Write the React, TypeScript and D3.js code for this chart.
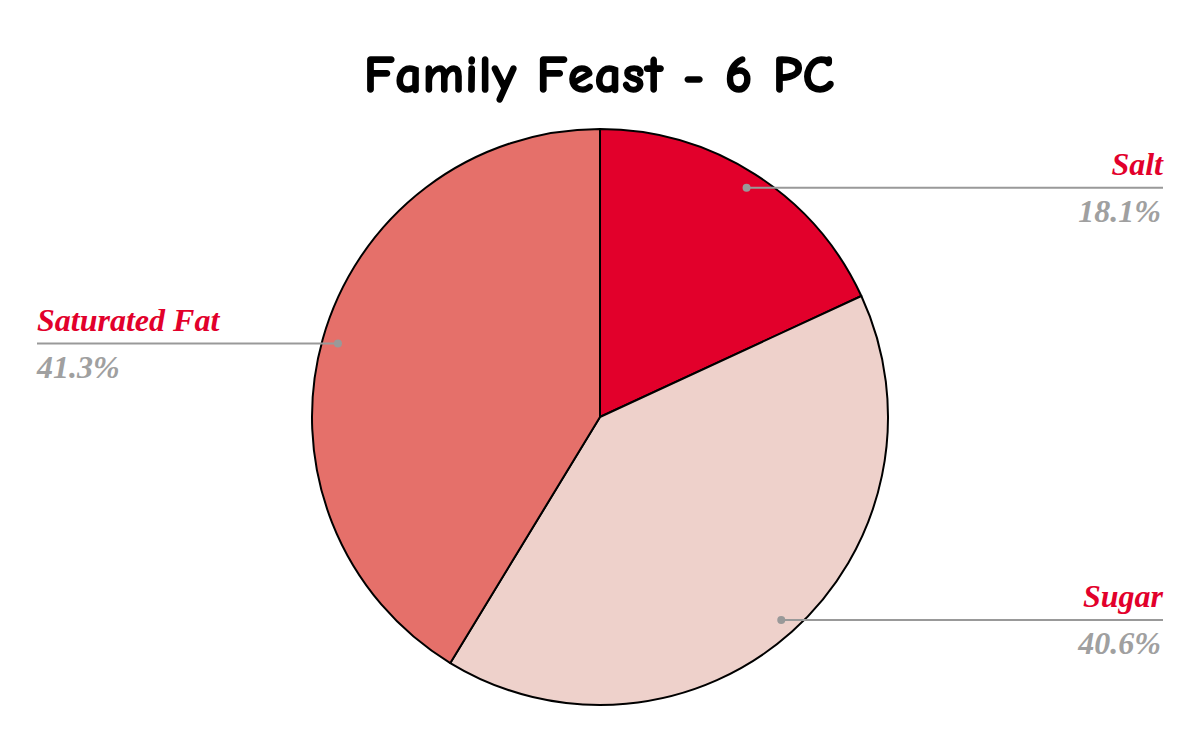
import React, { useEffect, useRef } from 'react';
import * as d3 from 'd3';

const categories = ['Salt', 'Sugar', 'Saturated Fat'];
const shares = [18.1, 40.6, 41.3];
const sliceColors = ['#e2002b', '#eed1cb', '#e5706a'];
const title = 'Family Feast - 6 PC';

export default function App() {
  const svgRef = useRef<SVGSVGElement>(null);

  useEffect(() => {
    if (!svgRef.current) return;
    const svg = d3.select(svgRef.current);
    svg.selectAll('*').remove();

    const width = 1200;
    const height = 742;
    const cx = 600;
    const cy = 417;
    const radius = 288;

    svg.append('rect').attr('width', width).attr('height', height).attr('fill', '#fff');

    svg.append('text')
      .attr('x', 599)
      .attr('y', 92)
      .attr('text-anchor', 'middle')
      .attr('textLength', 470)
      .attr('lengthAdjust', 'spacing')
      .style('font-family', '"Comic Sans MS", "Comic Neue", Lato, sans-serif')
      .style('font-weight', 'bold')
      .style('font-size', '52px')
      .style('fill', '#000')
      .style('stroke', '#000')
      .style('stroke-width', 1.6)
      .style('stroke-linejoin', 'round')
      .text(title);

    const data = categories.map((name, i) => ({ name, value: shares[i], color: sliceColors[i] }));
    const pie = d3.pie<typeof data[number]>().value(d => d.value).sort(null);
    const arcs = pie(data);
    const arc = d3.arc<d3.PieArcDatum<typeof data[number]>>().innerRadius(0).outerRadius(radius);

    const g = svg.append('g').attr('transform', `translate(${cx},${cy})`);

    g.selectAll('path.slice')
      .data(arcs)
      .enter()
      .append('path')
      .attr('class', 'slice')
      .attr('d', arc)
      .attr('fill', d => d.data.color)
      .attr('stroke', '#000')
      .attr('stroke-width', 2)
      .attr('stroke-linejoin', 'round');

    // Leader lines and labels
    const dotR = radius * 0.945;
    const leftX = 37;
    const rightX = 1163;

    arcs.forEach(a => {
      const mid = (a.startAngle + a.endAngle) / 2;
      const px = cx + Math.sin(mid) * dotR;
      const py = cy - Math.cos(mid) * dotR;
      const right = Math.sin(mid) >= 0;
      const endX = right ? rightX : leftX;

      svg.append('line')
        .attr('x1', px).attr('y1', py)
        .attr('x2', endX).attr('y2', py)
        .attr('stroke', '#999')
        .attr('stroke-width', 2);

      svg.append('circle')
        .attr('cx', px).attr('cy', py)
        .attr('r', 4)
        .attr('fill', '#999');

      svg.append('text')
        .attr('x', endX)
        .attr('y', py - 13)
        .attr('text-anchor', right ? 'end' : 'start')
        .style('font-family', '"Liberation Serif", "Times New Roman", serif')
        .style('font-weight', 'bold')
        .style('font-style', 'italic')
        .style('font-size', '32px')
        .style('fill', '#e2002b')
        .text(a.data.name);

      svg.append('text')
        .attr('x', endX - (right ? 2 : 0))
        .attr('y', py + 34)
        .attr('text-anchor', right ? 'end' : 'start')
        .style('font-family', '"Liberation Serif", "Times New Roman", serif')
        .style('font-weight', 'bold')
        .style('font-style', 'italic')
        .style('font-size', '32px')
        .style('fill', '#a0a0a0')
        .text(`${a.data.value.toFixed(1)}%`);
    });
  }, []);

  return (
    <svg
      ref={svgRef}
      width={1200}
      height={742}
      style={{ position: 'absolute', left: 0, top: 0, display: 'block' }}
    />
  );
}
